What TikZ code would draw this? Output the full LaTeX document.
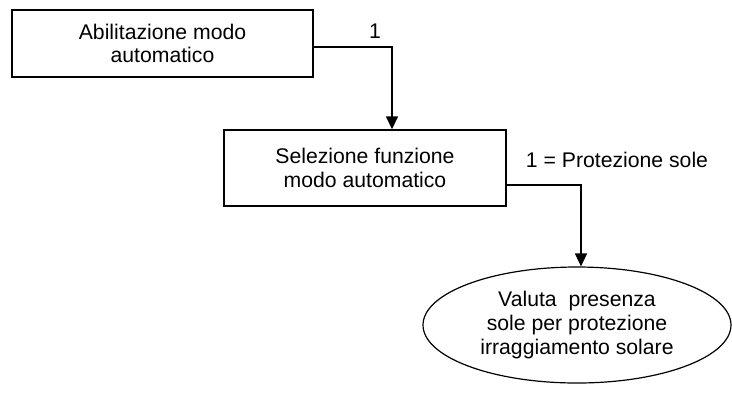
\documentclass[tikz,border=0pt]{standalone}
\usepackage{fontspec}
\setmainfont{Liberation Sans}
\usetikzlibrary{shapes.geometric,arrows.meta}
\begin{document}
\begin{tikzpicture}[x=0.5pt,y=-0.5pt,
  every node/.style={font=\fontsize{10.6}{11.8}\selectfont, align=center},
  boxnode/.style={draw, line width=0.7pt, inner sep=0pt},
  ellnode/.style={ellipse, draw, line width=0.6pt, inner sep=0pt},
  conn/.style={line width=0.75pt, -{Triangle[length=6.5pt,width=6pt]}},
  lbl/.style={inner sep=0pt}]
\useasboundingbox (0,0) rectangle (732,392);
\node[boxnode, minimum width=150.5pt, minimum height=33.5pt] (b1) at (162.5,43.5) {Abilitazione modo\\automatico};
\node[boxnode, minimum width=141pt, minimum height=38pt] (b2) at (365,168) {Selezione funzione\\modo automatico};
\node[ellnode, minimum width=154pt, minimum height=58pt] (e) at (577,325) {Valuta\ \ presenza\\sole per protezione\\irraggiamento solare};
\coordinate (k1) at (392,47);
\coordinate (k2) at (581,185);
\draw[conn] (b1.east |- k1) -- (k1) -- (k1 |- b2.north);
\draw[conn] (b2.east |- k2) -- (k2) -- (k2 |- e.north);
\node[lbl] (l1) at (375,31) {1};
\node[lbl] (l2) at (617,160) {1 = Protezione sole};
\end{tikzpicture}
\end{document}
